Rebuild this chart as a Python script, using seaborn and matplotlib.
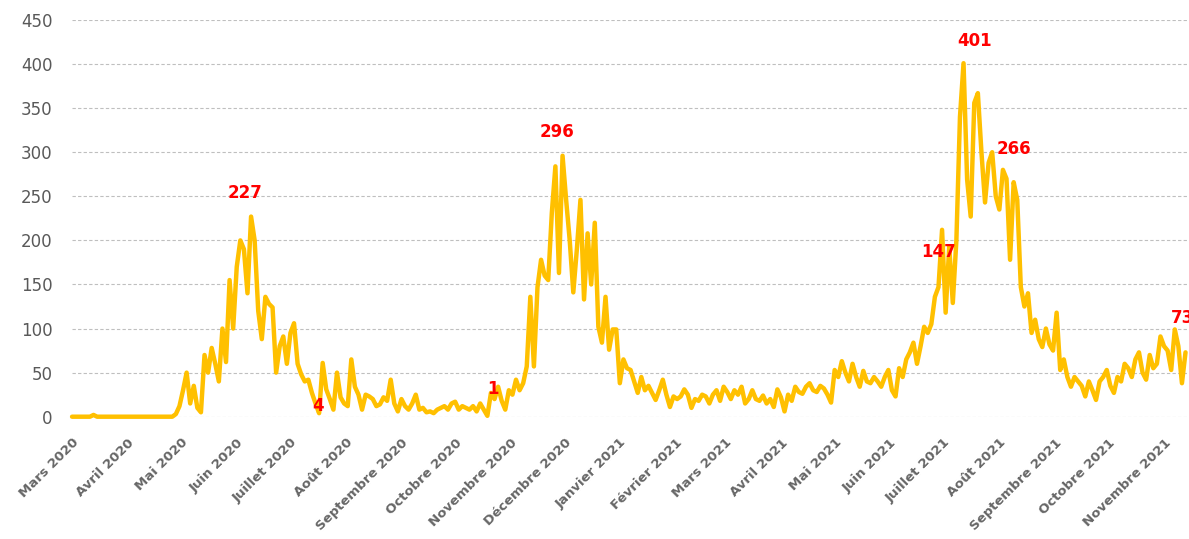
import pandas as pd
import matplotlib
matplotlib.use("Agg")
import matplotlib.pyplot as plt
import seaborn as sns

# daily new cases, one reading every 2 days from 1 March 2020
cases_spring_2020 = [0, 0, 0, 0, 0, 0, 2, 0, 0, 0, 0, 0, 0, 0, 0, 0, 0, 0, 0, 0,
                     0, 0, 0, 0, 0, 0, 0, 0, 0]
cases_wave1 = [3, 12, 30, 50, 15, 35, 10, 5, 70, 50, 78, 60, 40, 100, 62, 155, 100,
               170, 200, 190, 140, 227, 200, 120, 88, 136, 128, 124, 50, 80, 91, 60,
               95, 106, 60, 48, 40, 42, 27, 15, 4, 61, 31, 20, 8, 50, 22]
cases_autumn_2020 = [15, 12, 65, 34, 25, 8, 25, 23, 20, 12, 14, 22, 18, 42, 15, 6, 20,
                     12, 8, 15, 25, 8, 10, 5, 6, 4, 8, 10, 12, 8, 15, 17, 8, 12, 10, 8,
                     12, 6, 15, 8, 1, 27, 20, 34, 18, 8, 30, 25, 42, 30]
cases_wave2 = [38, 57, 136, 57, 147, 178, 160, 155, 231, 284, 163, 296, 246, 200, 141,
               190, 246, 133, 208, 150, 220, 102, 84, 136, 76, 99, 99, 38, 65, 55, 53,
               40, 27, 45, 30, 35, 27, 19, 30, 42, 25, 11, 23, 20, 23, 31, 25, 10, 20, 18]
cases_spring_2021 = [25, 23, 15, 25, 30, 18, 34, 28, 20, 30, 25, 34, 15, 20, 30, 20, 18,
                     24, 15, 20, 11, 31, 22, 6, 25, 18, 34, 28, 26, 34, 38, 30, 28, 35,
                     32, 25, 16, 53, 45, 63, 50, 40, 60, 45, 34, 52, 40, 38, 45, 40]
cases_wave3 = [34, 45, 53, 30, 23, 55, 45, 65, 73, 84, 60, 80, 102, 95, 105, 136, 147,
               212, 118, 193, 129, 200, 340, 401, 269, 227, 356, 367, 300, 243, 288, 300,
               250, 235, 280, 270, 178, 266, 246, 147, 125, 140, 95, 110, 88, 79, 100,
               82, 75, 118]
cases_autumn_2021 = [53, 65, 45, 34, 45, 40, 35, 23, 40, 30, 19, 40, 45, 53, 35, 27, 45,
                     40, 60, 55, 45, 65, 73, 50, 42, 70, 55, 60, 91, 80, 75, 53, 99, 80,
                     38, 73]

cases = (cases_spring_2020 + cases_wave1 + cases_autumn_2020 + cases_wave2
         + cases_spring_2021 + cases_wave3 + cases_autumn_2021)
dates = pd.date_range("2020-03-01", periods=len(cases), freq="2D")
df = pd.DataFrame({"date": dates, "cases": cases})

month_labels = ["Mars 2020", "Avril 2020", "Mai 2020", "Juin 2020", "Juillet 2020",
                "Août 2020", "Septembre 2020", "Octobre 2020", "Novembre 2020",
                "Décembre 2020", "Janvier 2021", "Février 2021", "Mars 2021",
                "Avril 2021", "Mai 2021", "Juin 2021", "Juillet 2021", "Août 2021",
                "Septembre 2021", "Octobre 2021", "Novembre 2021"]
month_ticks = pd.date_range("2020-03-01", periods=len(month_labels), freq="MS")

# the red labels on some peaks and troughs (date of the point)
label_dates = ["2020-06-09", "2020-07-17", "2020-10-19", "2020-11-30",
               "2021-06-28", "2021-07-12", "2021-08-09", "2021-11-13"]
label_offsets = [(-4, 17), (-1, 5), (4, 19), (-4, 17), (0, 25), (8, 16), (0, 24), (-2, 25)]

sns.set_style("white")
plt.rcParams["font.family"] = ["DejaVu Sans"]

fig = plt.figure(figsize=(11.89, 5.39), dpi=100)
ax = fig.add_axes([0.0606, 0.2269, 0.944, 0.736])

sns.lineplot(data=df, x="date", y="cases", color="#FFC000", linewidth=3.2, ax=ax)
for line in ax.lines:
    line.set_clip_on(False)

series = df.set_index("date")["cases"]
for d, off in zip(label_dates, label_offsets):
    d = pd.Timestamp(d)
    v = series.loc[d]
    ax.annotate(str(v), (d, v), xytext=off, textcoords="offset points",
                ha="center", va="center", color="#FF0000", fontsize=12,
                fontweight="bold", annotation_clip=False)

ax.set_xlim(pd.Timestamp("2020-03-01"), pd.Timestamp("2020-03-01") + pd.Timedelta(days=627))
ax.set_ylim(0, 450)
ax.set_yticks(range(0, 451, 50))
ax.set_xticks(month_ticks)
ax.set_xticklabels(month_labels, rotation=45, ha="right", rotation_mode="anchor",
                   fontsize=9.5, fontweight="bold", color="#666666")
ax.tick_params(axis="y", labelsize=12, labelcolor="#595959", length=0, pad=14)
ax.tick_params(axis="x", length=0, pad=14)

ax.yaxis.grid(True, linestyle=(0, (3, 2)), color="#BFBFBF", linewidth=0.8)
ax.xaxis.grid(False)
ax.set_xlabel("")
ax.set_ylabel("")
sns.despine(ax=ax, left=True, bottom=True)

fig.savefig("out.png", dpi=100)
